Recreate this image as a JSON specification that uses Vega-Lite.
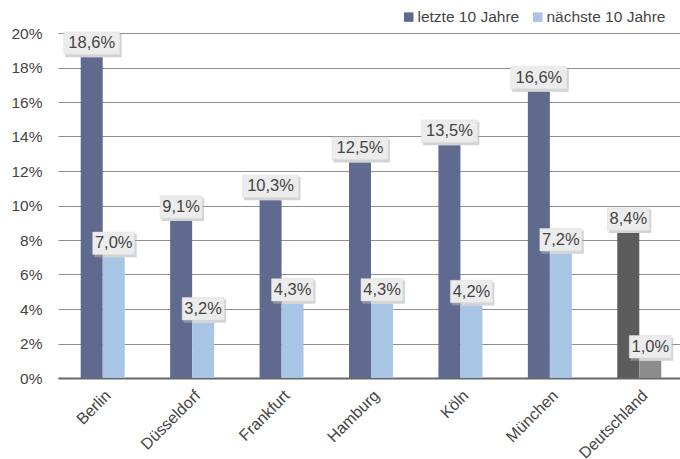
{
  "$schema": "https://vega.github.io/schema/vega-lite/v6.json",
  "width": 626,
  "height": 345,
  "autosize": "none",
  "padding": {"left": 58, "top": 33, "right": 0, "bottom": 81},
  "config": {
    "locale": {"number": {"decimal": ",", "thousands": ".", "grouping": [3], "currency": ["", " €"]}},
    "view": {"stroke": null},
    "font": "Liberation Sans"
  },
  "data": {
    "values": [
      {"stadt": "Berlin", "zeitraum": "letzte 10 Jahre", "kategorie": "letzte 10 Jahre", "wert": 0.186},
      {"stadt": "Berlin", "zeitraum": "nächste 10 Jahre", "kategorie": "nächste 10 Jahre", "wert": 0.070},
      {"stadt": "Düsseldorf", "zeitraum": "letzte 10 Jahre", "kategorie": "letzte 10 Jahre", "wert": 0.091},
      {"stadt": "Düsseldorf", "zeitraum": "nächste 10 Jahre", "kategorie": "nächste 10 Jahre", "wert": 0.032},
      {"stadt": "Frankfurt", "zeitraum": "letzte 10 Jahre", "kategorie": "letzte 10 Jahre", "wert": 0.103},
      {"stadt": "Frankfurt", "zeitraum": "nächste 10 Jahre", "kategorie": "nächste 10 Jahre", "wert": 0.043},
      {"stadt": "Hamburg", "zeitraum": "letzte 10 Jahre", "kategorie": "letzte 10 Jahre", "wert": 0.125},
      {"stadt": "Hamburg", "zeitraum": "nächste 10 Jahre", "kategorie": "nächste 10 Jahre", "wert": 0.043},
      {"stadt": "Köln", "zeitraum": "letzte 10 Jahre", "kategorie": "letzte 10 Jahre", "wert": 0.135},
      {"stadt": "Köln", "zeitraum": "nächste 10 Jahre", "kategorie": "nächste 10 Jahre", "wert": 0.042},
      {"stadt": "München", "zeitraum": "letzte 10 Jahre", "kategorie": "letzte 10 Jahre", "wert": 0.166},
      {"stadt": "München", "zeitraum": "nächste 10 Jahre", "kategorie": "nächste 10 Jahre", "wert": 0.072},
      {"stadt": "Deutschland", "zeitraum": "letzte 10 Jahre", "kategorie": "Deutschland letzte 10 Jahre", "wert": 0.084},
      {"stadt": "Deutschland", "zeitraum": "nächste 10 Jahre", "kategorie": "Deutschland nächste 10 Jahre", "wert": 0.010}
    ]
  },
  "encoding": {
    "x": {
      "field": "stadt",
      "type": "nominal",
      "sort": ["Berlin", "Düsseldorf", "Frankfurt", "Hamburg", "Köln", "München", "Deutschland"],
      "scale": {"paddingInner": 0.508, "paddingOuter": 0.254},
      "axis": {
        "title": null,
        "labelAngle": -45,
        "labelAlign": "right",
        "labelBaseline": "top",
        "labelPadding": 9,
        "labelFontSize": 16,
        "labelColor": "#444444",
        "ticks": false,
        "domainColor": "#666666",
        "domainWidth": 2,
        "grid": false
      }
    },
    "xOffset": {"field": "zeitraum", "type": "nominal", "sort": ["letzte 10 Jahre", "nächste 10 Jahre"]},
    "y": {
      "field": "wert",
      "type": "quantitative",
      "scale": {"domain": [0, 0.2], "nice": false},
      "axis": {
        "title": null,
        "values": [0, 0.02, 0.04, 0.06, 0.08, 0.1, 0.12, 0.14, 0.16, 0.18, 0.2],
        "format": ".0%",
        "labelFontSize": 15.5,
        "labelColor": "#444444",
        "labelPadding": 16,
        "ticks": false,
        "domain": false,
        "gridColor": "#8f8f8f",
        "gridWidth": 1
      }
    }
  },
  "layer": [
    {
      "mark": {"type": "bar"},
      "encoding": {
        "color": {
          "field": "kategorie",
          "type": "nominal",
          "scale": {
            "domain": ["letzte 10 Jahre", "nächste 10 Jahre", "Deutschland letzte 10 Jahre", "Deutschland nächste 10 Jahre"],
            "range": ["#5f6a8e", "#a9c5e6", "#5c5c5c", "#8c8c8c"]
          },
          "legend": {
            "orient": "none",
            "legendX": 343,
            "legendY": -24,
            "direction": "horizontal",
            "title": null,
            "values": ["letzte 10 Jahre", "nächste 10 Jahre"],
            "symbolType": "square",
            "symbolSize": 90,
            "symbolStrokeWidth": 0,
            "labelFontSize": 15.5,
            "labelColor": "#444444",
            "columnPadding": 10,
            "labelOffset": 1
          }
        }
      }
    },
    {
      "mark": {"type": "point", "filled": true, "size": 3136, "yOffset": -14, "color": "#b0b0b0", "opacity": 0.55, "strokeWidth": 0},
      "encoding": {
        "shape": {
          "condition": {"test": "datum.wert >= 0.1", "value": "M-0.95,-0.33H1.07V0.5H-0.95Z"},
          "value": "M-0.7,-0.33H0.82V0.5H-0.7Z"
        }
      }
    },
    {
      "mark": {"type": "point", "filled": true, "size": 3136, "yOffset": -14, "color": "#ececec", "opacity": 1, "stroke": "#dcdcdc", "strokeWidth": 0.5},
      "encoding": {
        "shape": {
          "condition": {"test": "datum.wert >= 0.1", "value": "M-1,-0.4H1V0.4H-1Z"},
          "value": "M-0.75,-0.4H0.75V0.4H-0.75Z"
        }
      }
    },
    {
      "mark": {"type": "text", "dy": -14, "baseline": "middle", "align": "center", "fontSize": 16.5, "color": "#444444"},
      "encoding": {
        "text": {"field": "wert", "type": "quantitative", "format": ".1%"}
      }
    }
  ]
}
